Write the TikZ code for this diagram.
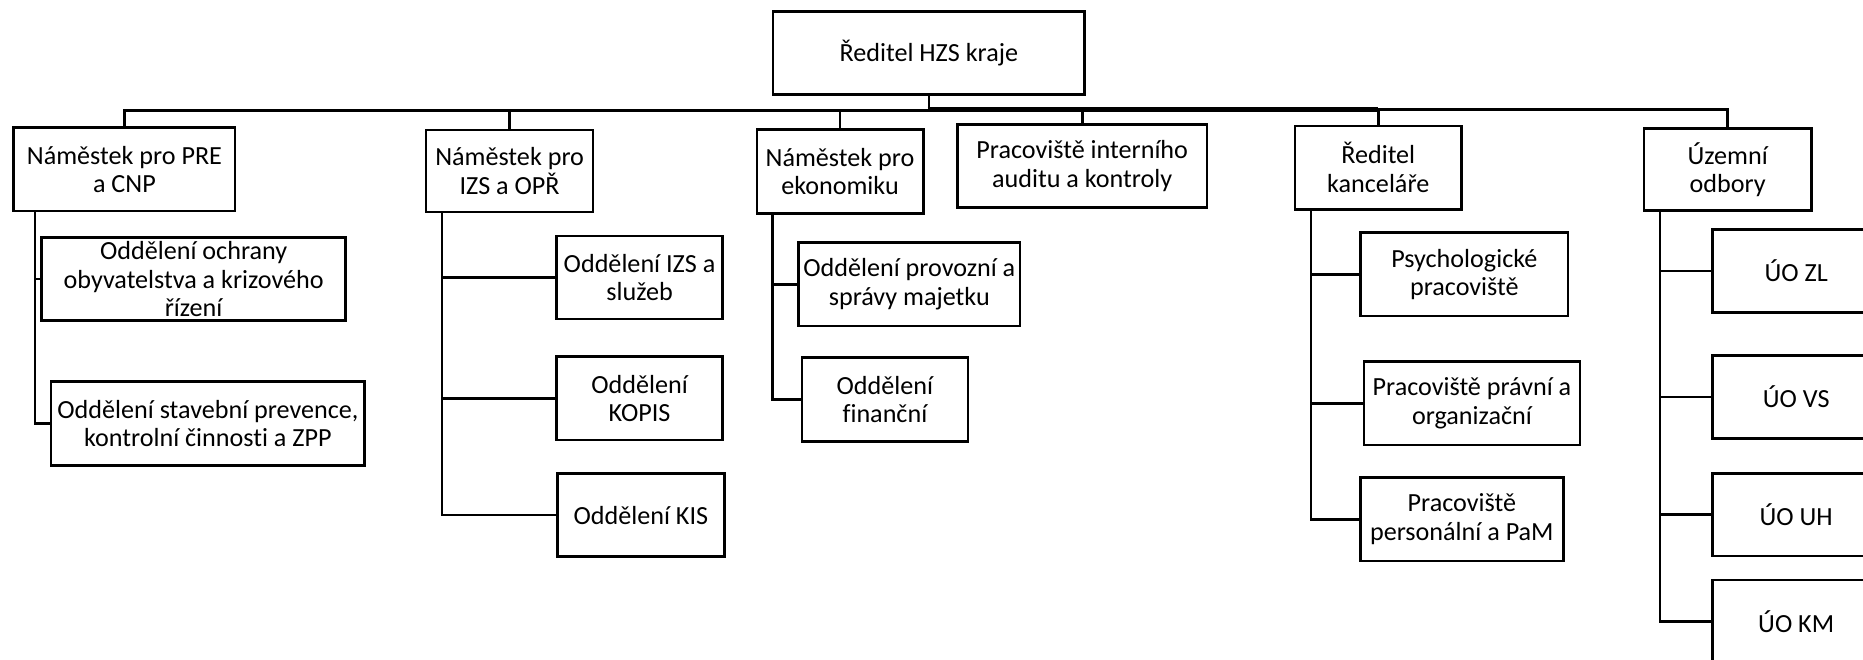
\documentclass[tikz,border=0pt]{standalone}
\usepackage{fontspec}
\setmainfont{Carlito}[Ligatures={NoCommon,NoContextual}]
\usetikzlibrary{calc}
\tikzset{
  orgbox/.style={draw, line width=2.2pt, inner sep=0pt, align=center,
    font=\fontsize{22}{24}\selectfont, fill=white},
  conn/.style={line width=2.2pt},
}
\begin{document}
\begin{tikzpicture}[x=1pt,y=-1pt]
\path[use as bounding box, clip] (0,0) rectangle (1568,555);
\fill[white] (0,0) rectangle (1568,555);

% top
\node[orgbox, minimum width=262.5pt, minimum height=69.6pt] (top) at (781.75,44.6) {Ředitel HZS kraje};

% second level
\node[orgbox, minimum width=186.2pt, minimum height=70.1pt] (pre) at (104.7,142.55) {Náměstek pro PRE\\a CNP};
\node[orgbox, minimum width=140.6pt, minimum height=69.1pt] (izs) at (428.9,143.95) {Náměstek pro\\IZS a OPŘ};
\node[orgbox, minimum width=140pt, minimum height=70.8pt] (ekon) at (707,144.2) {Náměstek pro\\ekonomiku};
\node[orgbox, minimum width=209.7pt, minimum height=70.2pt] (audit) at (910.85,139.7) {Pracoviště interního\\auditu a kontroly};
\node[orgbox, minimum width=140pt, minimum height=70.2pt] (kanc) at (1160,141.1) {Ředitel\\kanceláře};
\node[orgbox, minimum width=140.7pt, minimum height=69.3pt] (uzem) at (1454.15,142.65) {Územní\\odbory};

% PRE children
\node[orgbox, minimum width=256pt, minimum height=70.2pt] (ochr) at (163,234.9) {Oddělení ochrany\\obyvatelstva a krizového\\řízení};
\node[orgbox, minimum width=264pt, minimum height=71pt] (stav) at (175,356.5) {Oddělení stavební prevence,\\kontrolní činnost{\kern0pt}i a ZPP};

% IZS children
\node[orgbox, minimum width=139.4pt, minimum height=69.8pt] (izssl) at (538.3,233.6) {Oddělení IZS a\\služeb};
\node[orgbox, minimum width=139.4pt, minimum height=70.4pt] (kopis) at (538.3,335.2) {Oddělení\\KOPIS};
\node[orgbox, minimum width=140.7pt, minimum height=70.2pt] (kis) at (539.35,433.5) {Oddělení KIS};

% ekonomika children
\node[orgbox, minimum width=186.6pt, minimum height=70.1pt] (prov) at (765.3,239.35) {Oddělení provozní a\\správy majetku};
\node[orgbox, minimum width=139.6pt, minimum height=70.8pt] (fin) at (744.8,336.4) {Oddělení\\finanční};

% kancelar children
\node[orgbox, minimum width=174.3pt, minimum height=70.2pt] (psych) at (1232.45,230.9) {Psychologické\\pracoviště};
\node[orgbox, minimum width=181.7pt, minimum height=70.2pt] (prav) at (1238.85,339.5) {Pracoviště právní a\\organizační};
\node[orgbox, minimum width=170.7pt, minimum height=70.2pt] (pers) at (1230.35,437.1) {Pracoviště\\personální a PaM};

% uzemni children
\node[orgbox, minimum width=140.5pt, minimum height=70.2pt] (zl) at (1511.75,228.1) {ÚO ZL};
\node[orgbox, minimum width=140.5pt, minimum height=69.6pt] (vs) at (1511.75,334.2) {ÚO VS};
\node[orgbox, minimum width=140.5pt, minimum height=69.6pt] (uh) at (1511.75,433.1) {ÚO UH};
\node[orgbox, minimum width=140.5pt, minimum height=70pt] (km) at (1511.75,523) {ÚO KM};

% bus
\coordinate (busL) at (0,93.4);
\coordinate (busR) at (0,92.3);
\coordinate (busT) at (0,92);
\draw[conn] (top.south) -- (top.south |- busL);
\draw[conn, line width=2.5pt] (pre.north) |- (top.south |- busL);
\draw[conn] (top.south |- busR) -| (uzem.north);
\draw[line width=4.2pt] ([xshift=-1.1pt]top.south |- busT) -- (kanc.north |- busT);
\draw[conn] (izs.north) -- (izs.north |- busL);
\draw[conn] (ekon.north) -- (ekon.north |- busL);
\draw[conn] (audit.north) -- (audit.north |- busT);
\draw[conn] (kanc.north) -- (kanc.north |- busT);

% child connectors
\coordinate (vP) at ($(pre.south west)+(18.8,0)$);
\coordinate (vI) at ($(izs.south west)+(14.6,0)$);
\coordinate (vE) at ($(ekon.south west)+(14.5,0)$);
\coordinate (vK) at ($(kanc.south west)+(14.6,0)$);
\coordinate (vU) at ($(uzem.south west)+(14.4,0)$);
\draw[conn] (vP) |- (ochr.west);
\draw[conn] (vP) |- (stav.west);
\draw[conn] (vI) |- (izssl.west);
\draw[conn] (vI) |- (kopis.west);
\draw[conn] (vI) |- (kis.west);
\draw[conn] (vE) |- (prov.west);
\draw[conn] (vE) |- (fin.west);
\draw[conn] (vK) |- (psych.west);
\draw[conn] (vK) |- (prav.west);
\draw[conn] (vK) |- (pers.west);
\draw[conn] (vU) |- (zl.west);
\draw[conn] (vU) |- (vs.west);
\draw[conn] (vU) |- (uh.west);
\draw[conn] (vU) |- (km.west);
\end{tikzpicture}
\end{document}
